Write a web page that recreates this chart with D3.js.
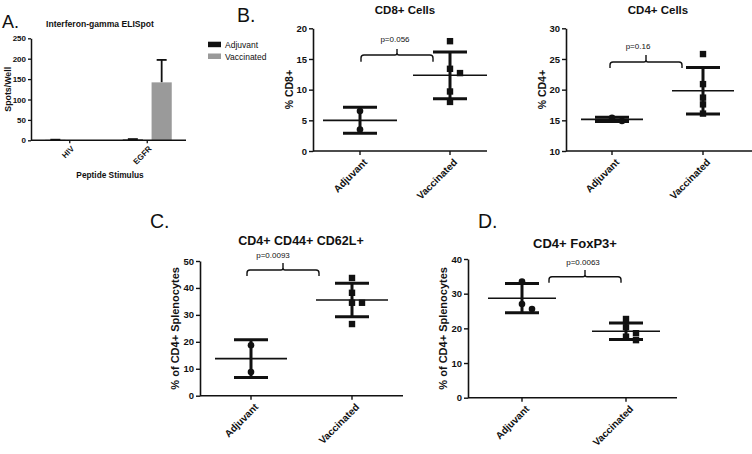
<!DOCTYPE html>
<html><head><meta charset="utf-8">
<script src="https://cdn.jsdelivr.net/npm/d3@7"></script>
<style>
body{margin:0;background:#fff;}
svg{display:block;font-family:"Liberation Sans",Arial,sans-serif;}
</style></head>
<body><svg id="chart" width="752" height="454"></svg>
<script>
// ---------- DATA ----------
const aCategories = ["HIV", "EGFR"];
const aSeries = ["Adjuvant", "Vaccinated"];
const aAdjuvant = [1, 2];
const aVaccinated = [0.3, 142];
const aAdjuvantErr = [0.5, 1];
const aVaccinatedErr = [0, 55];
const aTicks = [0, 50, 100, 150, 200, 250];

const groups = ["Adjuvant", "Vaccinated"];
const cd8Adjuvant = [6.5, 3.5];
const cd8Vaccinated = [17.9, 13.4, 12.7, 9.7, 8.0];
const cd8Ticks = [0, 5, 10, 15, 20];
const cd4Adjuvant = [15.4, 14.9];
const cd4Vaccinated = [25.8, 20.9, 18.7, 17.6, 16.1];
const cd4Ticks = [10, 15, 20, 25, 30];
const cd44Adjuvant = [18.7, 8.8];
const cd44Vaccinated = [43.7, 38.2, 34.5, 34.5, 26.6];
const cd44Ticks = [0, 10, 20, 30, 40, 50];
const foxp3Adjuvant = [33.5, 27.0, 25.6];
const foxp3Vaccinated = [22.7, 20.3, 18.6, 17.6, 16.6];
const foxp3Ticks = [0, 10, 20, 30, 40];
const pValues = ["p=0.056", "p=0.16", "p=0.0093", "p=0.0063"];
const titles = ["CD8+ Cells", "CD4+  Cells", "CD4+ CD44+  CD62L+", "CD4+  FoxP3+"];
const yLabels = ["% CD8+", "% CD4+", "% of CD4+ Splenocytes", "% of CD4+ Splenocytes"];

// ---------- DRAW ----------
const svg = d3.select("#chart");
const INK = "#111";
const FONT = "'Liberation Sans',Arial,sans-serif";

function txt(sel, x, y, s, size, weight, anchor) {
  return sel.append("text").attr("x", x).attr("y", y).text(s)
    .attr("font-size", size).attr("font-weight", weight || "normal")
    .attr("text-anchor", anchor || "start").attr("fill", INK);
}

// panel letters
txt(svg, 2, 28, "A.", 18);
txt(svg, 237, 22, "B.", 19.5);
txt(svg, 150, 228, "C.", 19.5);
txt(svg, 478, 228, "D.", 19.5);

// ---------- Panel A ----------
(function () {
  const g = svg.append("g");
  const axisX = 31, xEnd = 186;
  const y = d3.scaleLinear().domain([0, 250]).range([140.3, 38.3]);
  const x0 = d3.scalePoint().domain(aCategories).range([axisX, xEnd]).padding(0.5);
  const x1 = d3.scaleBand().domain(aSeries).range([-24.5, 24.5]).paddingInner(0.3);
  const color = d3.scaleOrdinal().domain(aSeries).range(["#111", "#9a9a9a"]);
  const vals = { Adjuvant: aAdjuvant, Vaccinated: aVaccinated };
  const errs = { Adjuvant: aAdjuvantErr, Vaccinated: aVaccinatedErr };

  aSeries.forEach(s => {
    aCategories.forEach((c, i) => {
      const bx = x0(c) + x1(s);
      const v = vals[s][i];
      const e = errs[s][i];
      if (e > 0) {
        const cx = bx + x1.bandwidth() / 2;
        g.append("line").attr("x1", cx).attr("x2", cx).attr("y1", y(v)).attr("y2", y(v + e))
          .attr("stroke", INK).attr("stroke-width", 1.8);
        g.append("line").attr("x1", cx - 5).attr("x2", cx + 5).attr("y1", y(v + e)).attr("y2", y(v + e))
          .attr("stroke", INK).attr("stroke-width", 1.8);
      }
      g.append("rect").attr("x", bx).attr("width", x1.bandwidth())
        .attr("y", y(v)).attr("height", Math.max(0.6, y(0) - y(v)))
        .attr("fill", color(s));
    });
  });

  const ax = g.append("g").attr("transform", `translate(${axisX},0)`)
    .call(d3.axisLeft(y).tickValues(aTicks).tickSize(3).tickSizeOuter(0).tickPadding(2));
  ax.select(".domain").attr("stroke", INK).attr("stroke-width", 1.5);
  ax.selectAll(".tick line").attr("stroke", INK).attr("stroke-width", 1.3);
  ax.selectAll("text").attr("font-size", 8).attr("font-weight", "bold").attr("font-family", FONT).attr("fill", INK);

  g.append("line").attr("x1", axisX).attr("x2", xEnd).attr("y1", y(0)).attr("y2", y(0))
    .attr("stroke", INK).attr("stroke-width", 1.5);
  aCategories.forEach(c => {
    g.append("line").attr("x1", x0(c)).attr("x2", x0(c)).attr("y1", y(0)).attr("y2", y(0) + 3)
      .attr("stroke", INK).attr("stroke-width", 1.3);
    g.append("text").attr("transform", `translate(${x0(c) + 1},${y(0) + 5}) rotate(-45)`)
      .attr("text-anchor", "end").attr("dy", "0.7em").attr("font-size", 8).attr("font-weight", "bold")
      .attr("fill", INK).text(c);
  });

  txt(g, 100, 26.5, "Interferon-gamma ELISpot", 8.6, "bold", "middle");
  txt(g, 110, 178, "Peptide  Stimulus", 8.3, "bold", "middle");
  g.append("text").attr("transform", `translate(10.5,${(y(0) + y(250)) / 2}) rotate(-90)`)
    .attr("text-anchor", "middle").attr("font-size", 8.8).attr("font-weight", "bold").attr("fill", INK)
    .text("Spots/Well");

  // legend
  const lg = g.append("g");
  aSeries.forEach((s, i) => {
    lg.append("rect").attr("x", 208).attr("y", 41.7 + i * 11.8).attr("width", 13).attr("height", 5.5)
      .attr("fill", color(s));
    txt(lg, 225, 47.8 + i * 11.8, s, 8.5);
  });
})();

// ---------- Scatter panels ----------
function scatterPanel(cfg, adjVals, vacVals, ticks, title, ylabel, pText) {
  const g = svg.append("g");
  const y = d3.scaleLinear().domain([ticks[0], ticks[ticks.length - 1]]).range(cfg.yRange);
  const x = d3.scalePoint().domain(groups).range(cfg.cats);
  const y0 = cfg.yRange[0];

  const ax = g.append("g").attr("transform", `translate(${cfg.axisX},0)`)
    .call(d3.axisLeft(y).tickValues(ticks).tickSize(4).tickSizeOuter(0).tickPadding(2));
  ax.select(".domain").attr("stroke", INK).attr("stroke-width", 1.6);
  ax.selectAll(".tick line").attr("stroke", INK).attr("stroke-width", 1.4);
  ax.selectAll("text").attr("font-size", 9.5).attr("font-weight", "bold").attr("font-family", FONT).attr("fill", INK);

  g.append("line").attr("x1", cfg.axisX).attr("x2", cfg.xEnd).attr("y1", y0).attr("y2", y0)
    .attr("stroke", INK).attr("stroke-width", 1.6);
  groups.forEach(k => {
    g.append("line").attr("x1", x(k)).attr("x2", x(k)).attr("y1", y0).attr("y2", y0 + 4)
      .attr("stroke", INK).attr("stroke-width", 1.4);
    g.append("text").attr("transform", `translate(${x(k) + 3},${y0 + 7}) rotate(-45)`)
      .attr("text-anchor", "end").attr("dy", "0.7em").attr("font-size", 10).attr("font-weight", "bold")
      .attr("fill", INK).text(k);
  });

  const sets = { Adjuvant: adjVals, Vaccinated: vacVals };
  groups.forEach(k => {
    const vals = sets[k];
    const cx = x(k);
    const m = d3.mean(vals), sd = d3.deviation(vals);
    // error bar
    g.append("line").attr("x1", cx).attr("x2", cx).attr("y1", y(m - sd)).attr("y2", y(m + sd))
      .attr("stroke", INK).attr("stroke-width", 3);
    [m - sd, m + sd].forEach(v => g.append("line").attr("x1", cx - 17).attr("x2", cx + 17)
      .attr("y1", y(v)).attr("y2", y(v)).attr("stroke", INK).attr("stroke-width", 3));
    g.append("line").attr("x1", cx - cfg.meanHalf).attr("x2", cx + cfg.meanHalf)
      .attr("y1", y(m)).attr("y2", y(m)).attr("stroke", INK).attr("stroke-width", 1.6);
    // points, simple beeswarm
    const sorted = vals.slice().sort((a, b) => b - a);
    const placed = [];
    const offs = [0, 5, -5, 10, -10];
    sorted.forEach(v => {
      const py = y(v);
      let off = 0;
      for (const o of offs) {
        if (placed.every(p => Math.abs(p.py - py) >= 6 || Math.abs(p.off - o) >= 6)) { off = o; break; }
      }
      placed.push({ py, off });
      if (k === "Adjuvant") {
        g.append("circle").attr("cx", cx + off).attr("cy", py).attr("r", 3.3).attr("fill", INK);
      } else {
        g.append("rect").attr("x", cx + off - 3.2).attr("y", py - 3.2).attr("width", 6.4).attr("height", 6.4).attr("fill", INK);
      }
    });
  });

  // bracket
  const b = cfg.bracket, r = 3;
  const xm = (b.x1 + b.x2) / 2;
  g.append("path").attr("fill", "none").attr("stroke", INK).attr("stroke-width", 1.4)
    .attr("d", `M${b.x1},${b.yb} L${b.x1},${b.yh + r} Q${b.x1},${b.yh} ${b.x1 + r},${b.yh} L${xm - 2},${b.yh} Q${xm},${b.yh} ${xm},${b.yh - 2} L${xm},${b.yt} M${xm},${b.yh - 2} Q${xm},${b.yh} ${xm + 2},${b.yh} L${b.x2 - r},${b.yh} Q${b.x2},${b.yh} ${b.x2},${b.yh + r} L${b.x2},${b.yb}`);
  txt(g, cfg.p[0], cfg.p[1], pText, 8, "normal", "middle");

  txt(g, cfg.title[0], cfg.title[1], title, cfg.titleSize, "bold", "middle");
  g.append("text").attr("transform", `translate(${cfg.ylabX},${(cfg.yRange[0] + cfg.yRange[1]) / 2}) rotate(-90)`)
    .attr("text-anchor", "middle").attr("font-size", cfg.ylabSize).attr("font-weight", "bold").attr("fill", INK)
    .text(ylabel);
}

scatterPanel({ axisX: 313, xEnd: 487, yRange: [151, 28.3], cats: [360, 450], meanHalf: 37,
  bracket: { x1: 361, x2: 433, yb: 61.7, yh: 55, yt: 49 }, p: [395, 41.5],
  title: [405, 14], titleSize: 11.5, ylabX: 293, ylabSize: 10.5 },
  cd8Adjuvant, cd8Vaccinated, cd8Ticks, titles[0], yLabels[0], pValues[0]);

scatterPanel({ axisX: 566, xEnd: 752, yRange: [151, 28.3], cats: [612, 703], meanHalf: 31,
  bracket: { x1: 610, x2: 682, yb: 68, yh: 62, yt: 55 }, p: [638, 49],
  title: [658, 14], titleSize: 11.5, ylabX: 546, ylabSize: 10.5 },
  cd4Adjuvant, cd4Vaccinated, cd4Ticks, titles[1], yLabels[1], pValues[1]);

scatterPanel({ axisX: 200, xEnd: 403, yRange: [395.7, 261], cats: [251, 352], meanHalf: 36,
  bracket: { x1: 247, x2: 319, yb: 276, yh: 270, yt: 263 }, p: [273, 257.5],
  title: [301, 245], titleSize: 12.5, ylabX: 179, ylabSize: 11 },
  cd44Adjuvant, cd44Vaccinated, cd44Ticks, titles[2], yLabels[2], pValues[2]);

scatterPanel({ axisX: 468, xEnd: 677, yRange: [397.7, 259], cats: [522, 626], meanHalf: 34,
  bracket: { x1: 549, x2: 621, yb: 282.7, yh: 276.7, yt: 270 }, p: [583, 265],
  title: [575, 248], titleSize: 13, ylabX: 447, ylabSize: 11 },
  foxp3Adjuvant, foxp3Vaccinated, foxp3Ticks, titles[3], yLabels[3], pValues[3]);
</script>
</body></html>
